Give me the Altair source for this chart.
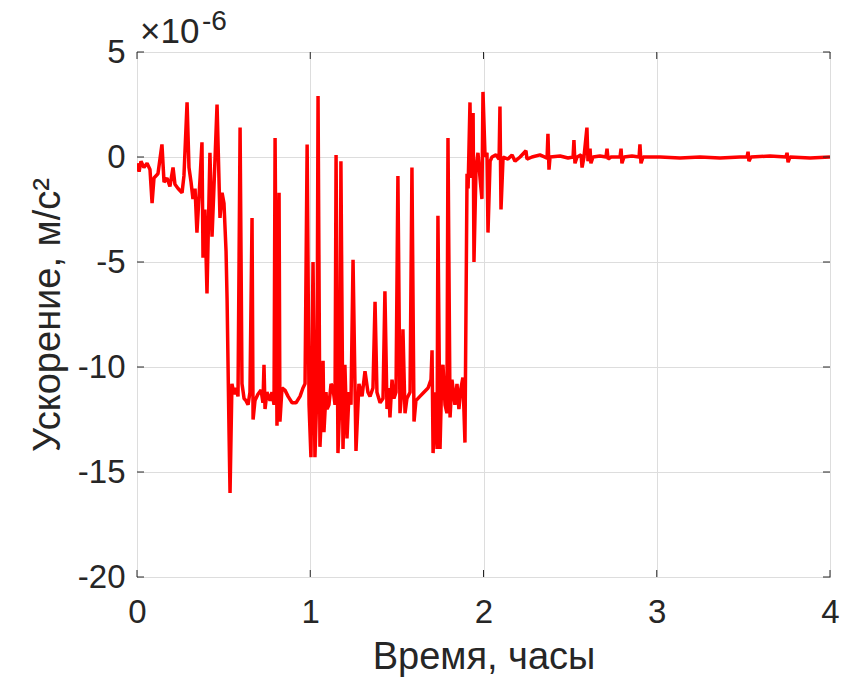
import altair as alt
import pandas as pd

# time, hours
t = [0.000, 0.012, 0.023, 0.040, 0.058, 0.075, 0.087, 0.098, 0.121, 0.144,
     0.156, 0.173, 0.190, 0.208, 0.219, 0.237, 0.260, 0.271, 0.289, 0.300,
     0.312, 0.323, 0.335, 0.346, 0.364, 0.375, 0.381, 0.392, 0.404, 0.421,
     0.433, 0.444, 0.462, 0.473, 0.479, 0.491, 0.502, 0.514, 0.520, 0.531,
     0.537, 0.548, 0.560, 0.571, 0.583, 0.595, 0.606, 0.618, 0.629, 0.641,
     0.652, 0.664, 0.670, 0.681, 0.698, 0.716, 0.727, 0.733, 0.739, 0.750,
     0.768, 0.779, 0.791, 0.797, 0.808, 0.820, 0.825, 0.837, 0.854, 0.872,
     0.895, 0.918, 0.941, 0.958, 0.970, 0.982, 0.993, 1.004, 1.016, 1.027,
     1.039, 1.045, 1.056, 1.068, 1.074, 1.079, 1.091, 1.097, 1.108, 1.120,
     1.131, 1.143, 1.149, 1.160, 1.172, 1.177, 1.189, 1.200, 1.212, 1.224,
     1.235, 1.247, 1.264, 1.281, 1.299, 1.316, 1.333, 1.345, 1.362, 1.374,
     1.385, 1.403, 1.420, 1.431, 1.443, 1.454, 1.460, 1.472, 1.483, 1.495,
     1.506, 1.518, 1.530, 1.535, 1.547, 1.558, 1.576, 1.587, 1.599, 1.610,
     1.633, 1.656, 1.680, 1.697, 1.703, 1.709, 1.720, 1.732, 1.737, 1.749,
     1.760, 1.766, 1.778, 1.789, 1.795, 1.807, 1.818, 1.835, 1.847, 1.858,
     1.870, 1.881, 1.893, 1.905, 1.911, 1.922, 1.928, 1.940, 1.945, 1.957,
     1.968, 1.980, 1.991, 1.997, 2.009, 2.020, 2.026, 2.038, 2.049, 2.072,
     2.090, 2.095, 2.101, 2.113, 2.141, 2.165, 2.182, 2.211, 2.245, 2.251,
     2.280, 2.326, 2.367, 2.372, 2.378, 2.384, 2.442, 2.488, 2.517, 2.522,
     2.528, 2.540, 2.563, 2.569, 2.580, 2.597, 2.603, 2.615, 2.620, 2.632,
     2.672, 2.707, 2.713, 2.719, 2.736, 2.788, 2.794, 2.799, 2.811, 2.857,
     2.898, 2.903, 2.909, 2.921, 3.019, 3.134, 3.250, 3.365, 3.481, 3.521,
     3.527, 3.532, 3.544, 3.654, 3.746, 3.752, 3.758, 3.769, 3.885, 4.000]

# acceleration, x1e-6 m/s^2
v = [-0.3, -0.7, -0.2, -0.5, -0.3, -0.6, -2.2, -1.0, -0.8, 0.6,
     -1.2, -1.0, -1.4, -0.5, -1.3, -1.5, -1.7, -0.9, 2.6, -0.5,
     -1.2, -2.0, -1.5, -3.6, -1.0, 0.7, -4.8, -2.5, -6.5, 0.2,
     -3.8, -1.5, 2.5, -1.0, -2.9, -1.7, -2.2, -4.5, -6.8, -13.0,
     -16.0, -10.8, -11.3, -11.0, -11.4, 1.4, -10.8, -11.5, -11.6, -11.8,
     -11.2, -2.9, -12.5, -11.6, -11.3, -11.1, -11.7, -9.9, -12.0, -11.2,
     -11.6, -11.2, -11.8, 0.9, -12.8, -1.7, -12.6, -11.0, -11.1, -11.4,
     -11.7, -11.7, -11.4, -11.0, -10.8, 0.6, -11.8, -14.3, -5.0, -14.3,
     -11.0, 2.9, -13.8, -11.5, -9.7, -13.1, -11.2, -12.0, -11.8, -10.8,
     -11.0, -11.8, 0.1, -14.1, -11.5, -0.2, -13.9, -9.9, -13.4, -11.2,
     -11.8, -4.9, -14.0, -10.8, -11.4, -10.2, -11.2, -11.4, -11.0, -6.9,
     -11.2, -11.7, -11.5, -6.4, -12.0, -11.0, -12.4, -10.6, -11.5, -11.2,
     -0.9, -12.2, -11.0, -8.2, -12.2, -11.5, -11.2, -0.5, -12.6, -11.6,
     -11.4, -11.2, -11.0, -10.6, -9.2, -14.1, -11.2, -13.9, -2.8, -13.9,
     -10.2, -9.9, -11.8, -12.2, 0.9, -12.4, -10.6, -11.8, -10.8, -12.0,
     -11.0, -10.5, -13.6, -0.8, -1.5, 2.6, -1.0, 2.1, -5.0, -0.5,
     0.2, -1.0, -2.0, 3.1, 0.0, 0.2, -3.6, -0.2, 0.0, 0.1,
     -0.1, 2.4, -2.5, 0.0, -0.1, 0.1, -0.2, 0.0, 0.3, -0.1,
     0.0, 0.1, -0.05, 1.1, -0.6, 0.0, 0.05, -0.05, 0.0, 0.8,
     -0.3, 0.0, 0.1, -0.5, 0.0, 1.4, -0.2, 0.4, -0.3, 0.0,
     0.05, 0.0, 0.4, -0.1, 0.0, 0.0, 0.4, -0.3, 0.0, 0.05,
     0.0, 0.6, -0.3, 0.0, 0.0, -0.05, 0.0, -0.05, 0.0, 0.0,
     0.25, -0.2, 0.0, 0.05, 0.0, 0.2, -0.25, 0.0, -0.05, 0.0]

x_ticks = [0, 1, 2, 3, 4]
y_ticks = [-20, -15, -10, -5, 0, 5]

df = pd.DataFrame({"t": t, "v": v})
xt = pd.DataFrame({"t": x_ticks})
yt = pd.DataFrame({"v": y_ticks})

W, H = 693, 525
FONT = "Liberation Sans"
AX = "#262626"
TL = 7

xs = alt.Scale(domain=[0, 4], nice=False, zero=False)
ys = alt.Scale(domain=[-20, 5], nice=False, zero=False)

line = alt.Chart(df).mark_line(
    color="#ff0000", strokeWidth=3.5, strokeJoin="bevel", clip=True
).encode(
    x=alt.X("t:Q", scale=xs, axis=alt.Axis(
        values=x_ticks, title="Время, часы", grid=True, gridColor="#dddddd",
        domain=False, ticks=False, labelPadding=19, labelFontSize=33,
        labelFlush=False, labelOverlap=False,
        labelFont=FONT, labelColor=AX, labelExpr="'' + datum.value",
        titleFont=FONT, titleFontSize=38, titleFontWeight="normal",
        titleColor=AX, titlePadding=9)),
    y=alt.Y("v:Q", scale=ys, axis=alt.Axis(
        values=y_ticks, title="Ускорение, м/с²", grid=True, gridColor="#dddddd",
        domain=False, ticks=False, labelPadding=12, labelFontSize=33,
        labelFlush=False, labelOverlap=False,
        labelFont=FONT, labelColor=AX, labelExpr="'' + datum.value",
        titleFont=FONT, titleFontSize=38, titleFontWeight="normal",
        titleColor=AX, titlePadding=10)),
)

tick_style = dict(color=AX, strokeWidth=1)
bt = alt.Chart(xt).mark_rule(**tick_style).encode(
    x=alt.X("t:Q", scale=xs), y=alt.value(H), y2=alt.value(H - TL))
tt = alt.Chart(xt).mark_rule(**tick_style).encode(
    x=alt.X("t:Q", scale=xs), y=alt.value(0), y2=alt.value(TL))
lt = alt.Chart(yt).mark_rule(**tick_style).encode(
    y=alt.Y("v:Q", scale=ys), x=alt.value(0), x2=alt.value(TL))
rt = alt.Chart(yt).mark_rule(**tick_style).encode(
    y=alt.Y("v:Q", scale=ys), x=alt.value(W), x2=alt.value(W - TL))

exp_base = alt.Chart(pd.DataFrame({"s": ["×10"]})).mark_text(
    font=FONT, fontSize=35, color=AX, align="left", baseline="alphabetic"
).encode(text="s:N", x=alt.value(3), y=alt.value(-9))
exp_sup = alt.Chart(pd.DataFrame({"s": ["-6"]})).mark_text(
    font=FONT, fontSize=28, color=AX, align="left", baseline="alphabetic"
).encode(text="s:N", x=alt.value(65), y=alt.value(-22))

chart = alt.layer(line, bt, tt, lt, rt, exp_base, exp_sup).properties(
    width=W, height=H,
    autosize=alt.AutoSizeParams(type="none"),
    padding={"left": 137, "top": 52, "right": 22, "bottom": 102},
    background="white",
).configure_view(stroke=AX, strokeWidth=1)

chart.save("out.html", embed_options={"renderer": "svg", "actions": False})
